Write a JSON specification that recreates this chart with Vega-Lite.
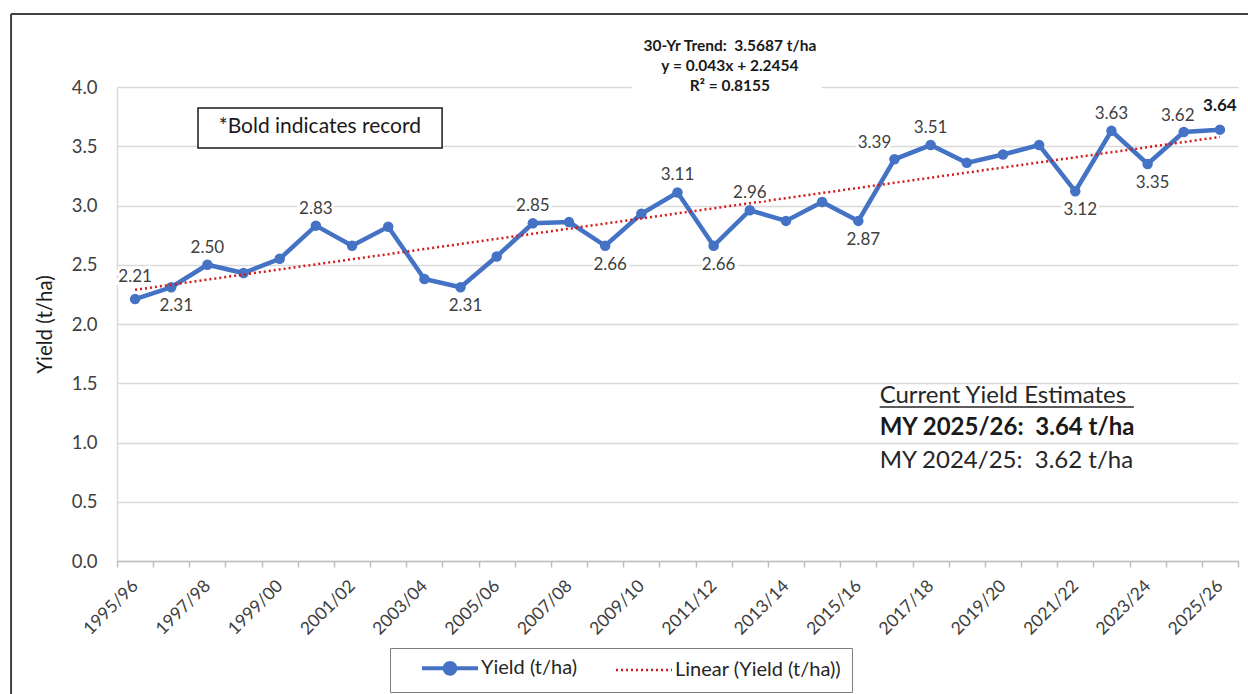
{
  "$schema": "https://vega.github.io/schema/vega-lite/v6.json",
  "width": 1121,
  "height": 474,
  "autosize": "none",
  "padding": {"left": 117, "top": 87, "right": 10, "bottom": 133},
  "background": "white",
  "config": {"font": "Lato", "view": {"stroke": null}},
  "data": {"values": [
    {"season": "1995/96", "yield": 2.21, "trend": 2.2884},
    {"season": "1996/97", "yield": 2.31, "trend": 2.3314},
    {"season": "1997/98", "yield": 2.50, "trend": 2.3744},
    {"season": "1998/99", "yield": 2.43, "trend": 2.4174},
    {"season": "1999/00", "yield": 2.55, "trend": 2.4604},
    {"season": "2000/01", "yield": 2.83, "trend": 2.5034},
    {"season": "2001/02", "yield": 2.66, "trend": 2.5464},
    {"season": "2002/03", "yield": 2.82, "trend": 2.5894},
    {"season": "2003/04", "yield": 2.38, "trend": 2.6324},
    {"season": "2004/05", "yield": 2.31, "trend": 2.6754},
    {"season": "2005/06", "yield": 2.57, "trend": 2.7184},
    {"season": "2006/07", "yield": 2.85, "trend": 2.7614},
    {"season": "2007/08", "yield": 2.86, "trend": 2.8044},
    {"season": "2008/09", "yield": 2.66, "trend": 2.8474},
    {"season": "2009/10", "yield": 2.93, "trend": 2.8904},
    {"season": "2010/11", "yield": 3.11, "trend": 2.9334},
    {"season": "2011/12", "yield": 2.66, "trend": 2.9764},
    {"season": "2012/13", "yield": 2.96, "trend": 3.0194},
    {"season": "2013/14", "yield": 2.87, "trend": 3.0624},
    {"season": "2014/15", "yield": 3.03, "trend": 3.1054},
    {"season": "2015/16", "yield": 2.87, "trend": 3.1484},
    {"season": "2016/17", "yield": 3.39, "trend": 3.1914},
    {"season": "2017/18", "yield": 3.51, "trend": 3.2344},
    {"season": "2018/19", "yield": 3.36, "trend": 3.2774},
    {"season": "2019/20", "yield": 3.43, "trend": 3.3204},
    {"season": "2020/21", "yield": 3.51, "trend": 3.3634},
    {"season": "2021/22", "yield": 3.12, "trend": 3.4064},
    {"season": "2022/23", "yield": 3.63, "trend": 3.4494},
    {"season": "2023/24", "yield": 3.35, "trend": 3.4924},
    {"season": "2024/25", "yield": 3.62, "trend": 3.5354},
    {"season": "2025/26", "yield": 3.64, "trend": 3.5784}
  ]},
  "layer": [
    {
      "data": {"values": [{"t": "box"}]},
      "mark": {"type": "rect", "fill": "white"},
      "encoding": {
        "x": {"datum": "2009/10", "bandPosition": 0.24, "type": "nominal",
          "scale": {"type": "band", "paddingInner": 0, "paddingOuter": 0,
            "domain": ["1995/96","1996/97","1997/98","1998/99","1999/00","2000/01","2001/02","2002/03","2003/04","2004/05","2005/06","2006/07","2007/08","2008/09","2009/10","2010/11","2011/12","2012/13","2013/14","2014/15","2015/16","2016/17","2017/18","2018/19","2019/20","2020/21","2021/22","2022/23","2023/24","2024/25","2025/26"]}},
        "x2": {"datum": "2014/15", "bandPosition": 0.49},
        "y": {"datum": 3.97, "type": "quantitative"},
        "y2": {"datum": 4.45}
      }
    },
    {
      "data": {"values": [{"t": "frame"}]},
      "mark": {"type": "rule", "stroke": "#404040", "strokeWidth": 2},
      "encoding": {
        "x": {"datum": "1995/96", "bandPosition": -2.93, "type": "nominal"},
        "x2": {"datum": "2025/26", "bandPosition": 1.5},
        "y": {"datum": 4.615, "type": "quantitative"}
      }
    },
    {
      "data": {"values": [{"t": "frame"}]},
      "mark": {"type": "rule", "stroke": "#404040", "strokeWidth": 2},
      "encoding": {
        "x": {"datum": "1995/96", "bandPosition": -2.93, "type": "nominal"},
        "y": {"datum": 4.615, "type": "quantitative"},
        "y2": {"datum": -1.2}
      }
    },
    {
      "mark": {"type": "line", "strokeWidth": 4.5, "point": {"size": 110, "filled": true}},
      "encoding": {
        "x": {"field": "season", "type": "nominal", "sort": null,
          "axis": {"title": null, "labelAngle": -45, "labelFontSize": 17.5, "labelColor": "#404040",
            "domainColor": "#bfbfbf", "domainWidth": 1.5, "tickColor": "#bfbfbf", "tickWidth": 1.5, "tickBand": "extent", "tickSize": 6,
            "labelPadding": 16, "grid": false,
            "labelExpr": "toNumber(substring(datum.value, 0, 4)) % 2 == 1 ? datum.value : ''"}},
        "y": {"field": "yield", "type": "quantitative",
          "scale": {"domain": [0, 4], "nice": false, "zero": true},
          "axis": {"title": "Yield (t/ha)", "values": [0, 0.5, 1, 1.5, 2, 2.5, 3, 3.5, 4], "format": ".1f",
            "grid": true, "gridColor": "#d9d9d9", "gridWidth": 1.5, "domain": true, "domainColor": "#d9d9d9", "domainWidth": 1.5,
            "ticks": false, "labelFontSize": 18.5, "labelColor": "#404040", "labelPadding": 20,
            "titleFontSize": 20.5, "titleColor": "#1a1a1a", "titleFontWeight": "normal", "titlePadding": 16}},
        "color": {"datum": "Yield (t/ha)", "type": "nominal",
          "scale": {"domain": ["Yield (t/ha)", "Linear (Yield (t/ha))"], "range": ["#4472C4", "#D41A1A"]},
          "legend": {"title": null, "orient": "none", "legendX": 273, "legendY": 561, "direction": "horizontal",
            "strokeColor": "#7f7f7f", "fillColor": "white", "padding": 10, "labelFontSize": 20, "labelColor": "#262626",
            "symbolType": "stroke", "symbolSize": 3136, "symbolStrokeWidth": 4, "columnPadding": 16, "labelOffset": 21,
            "symbolOffset": 40, "symbolLimit": 0, "labelLimit": 400,
            "encode": {"symbols": {"update": {
              "shape": {"signal": "datum.value === 'Yield (t/ha)' ? 'M-1,0H1M0.19,0A0.19,0.19,0,1,1,-0.19,0A0.19,0.19,0,1,1,0.19,0Z' : 'stroke'"},
              "fill": {"signal": "datum.value === 'Yield (t/ha)' ? '#4472C4' : 'transparent'"},
              "strokeDash": {"signal": "datum.value === 'Yield (t/ha)' ? [1, 0] : [2, 3]"},
              "strokeWidth": {"signal": "datum.value === 'Yield (t/ha)' ? 4 : 2.5"}
            }}}}}
      }
    },
    {
      "mark": {"type": "line", "strokeWidth": 2.5, "strokeDash": [2, 3]},
      "encoding": {
        "x": {"field": "season", "type": "nominal", "sort": null},
        "y": {"field": "trend", "type": "quantitative"},
        "color": {"datum": "Linear (Yield (t/ha))", "type": "nominal"}
      }
    },
    {
      "transform": [{"filter": {"field": "season", "oneOf": ["1997/98", "2000/01", "2006/07", "2010/11", "2012/13", "2017/18", "2022/23"]}}],
      "encoding": {
        "x": {"field": "season", "type": "nominal", "sort": null},
        "y": {"field": "yield", "type": "quantitative"},
        "text": {"field": "yield", "type": "quantitative", "format": ".2f"}
      },
      "layer": [
        {"mark": {"type": "text", "dy": -17, "fontSize": 17, "stroke": "white", "strokeWidth": 6, "fill": "white"}},
        {"mark": {"type": "text", "dy": -17, "fontSize": 17, "fill": "#404040"}}
      ]
    },
    {
      "transform": [{"filter": {"field": "season", "oneOf": ["1995/96"]}}],
      "encoding": {
        "x": {"field": "season", "type": "nominal", "sort": null},
        "y": {"field": "yield", "type": "quantitative"},
        "text": {"field": "yield", "type": "quantitative", "format": ".2f"}
      },
      "layer": [
        {"mark": {"type": "text", "dy": -22, "fontSize": 17, "stroke": "white", "strokeWidth": 6, "fill": "white"}},
        {"mark": {"type": "text", "dy": -22, "fontSize": 17, "fill": "#404040"}}
      ]
    },
    {
      "transform": [{"filter": {"field": "season", "oneOf": ["1996/97", "2004/05", "2008/09", "2011/12", "2015/16", "2021/22", "2023/24"]}}],
      "encoding": {
        "x": {"field": "season", "type": "nominal", "sort": null},
        "y": {"field": "yield", "type": "quantitative"},
        "text": {"field": "yield", "type": "quantitative", "format": ".2f"}
      },
      "layer": [
        {"mark": {"type": "text", "dy": 19, "dx": 5, "fontSize": 17, "stroke": "white", "strokeWidth": 6, "fill": "white"}},
        {"mark": {"type": "text", "dy": 19, "dx": 5, "fontSize": 17, "fill": "#404040"}}
      ]
    },
    {
      "transform": [{"filter": {"field": "season", "oneOf": ["2016/17"]}}],
      "encoding": {
        "x": {"field": "season", "type": "nominal", "sort": null},
        "y": {"field": "yield", "type": "quantitative"},
        "text": {"field": "yield", "type": "quantitative", "format": ".2f"}
      },
      "layer": [
        {"mark": {"type": "text", "dy": -16, "dx": -20, "fontSize": 17, "stroke": "white", "strokeWidth": 6, "fill": "white"}},
        {"mark": {"type": "text", "dy": -16, "dx": -20, "fontSize": 17, "fill": "#404040"}}
      ]
    },
    {
      "transform": [{"filter": {"field": "season", "oneOf": ["2024/25"]}}],
      "encoding": {
        "x": {"field": "season", "type": "nominal", "sort": null},
        "y": {"field": "yield", "type": "quantitative"},
        "text": {"field": "yield", "type": "quantitative", "format": ".2f"}
      },
      "layer": [
        {"mark": {"type": "text", "dy": -16, "dx": -6, "fontSize": 17, "fill": "#404040"}}
      ]
    },
    {
      "transform": [{"filter": {"field": "season", "oneOf": ["2025/26"]}}],
      "encoding": {
        "x": {"field": "season", "type": "nominal", "sort": null},
        "y": {"field": "yield", "type": "quantitative"},
        "text": {"field": "yield", "type": "quantitative", "format": ".2f"}
      },
      "layer": [
        {"mark": {"type": "text", "dy": -24, "fontSize": 17, "fontWeight": "bold", "fill": "#1a1a1a"}}
      ]
    },
    {
      "data": {"values": [{"t": ["30-Yr Trend:\u00a0 3.5687 t/ha", "y = 0.043x + 2.2454", "R² = 0.8155"]}]},
      "mark": {"type": "text", "fontSize": 15.5, "fontWeight": "bold", "fill": "#1a1a1a", "lineHeight": 20, "baseline": "middle"},
      "encoding": {
        "x": {"datum": "2011/12", "bandPosition": 0.95, "type": "nominal"},
        "y": {"datum": 4.35, "type": "quantitative"},
        "text": {"field": "t"}
      }
    },
    {
      "data": {"values": [{"t": "*Bold indicates record"}]},
      "mark": {"type": "rect", "fill": "white", "stroke": "#1a1a1a", "strokeWidth": 1.5},
      "encoding": {
        "x": {"datum": "1997/98", "bandPosition": 0.24, "type": "nominal"},
        "x2": {"datum": "2003/04", "bandPosition": 0.99},
        "y": {"datum": 3.485, "type": "quantitative"},
        "y2": {"datum": 3.823}
      }
    },
    {
      "data": {"values": [{"t": "*Bold indicates record"}]},
      "mark": {"type": "text", "fontSize": 21, "fill": "#1a1a1a"},
      "encoding": {
        "x": {"datum": "2000/01", "bandPosition": 0.61, "type": "nominal"},
        "y": {"datum": 3.662, "type": "quantitative"},
        "text": {"field": "t"}
      }
    },
    {
      "data": {"values": [{"t": "Current Yield Estimates"}]},
      "mark": {"type": "text", "fontSize": 24, "fill": "#262626", "align": "left"},
      "encoding": {
        "x": {"datum": "2016/17", "bandPosition": 0.09, "type": "nominal"},
        "y": {"datum": 1.39, "type": "quantitative"},
        "text": {"field": "t"}
      }
    },
    {
      "data": {"values": [{"t": "Current Yield Estimates"}]},
      "mark": {"type": "rule", "stroke": "#262626", "strokeWidth": 1.5},
      "encoding": {
        "x": {"datum": "2016/17", "bandPosition": 0.09, "type": "nominal"},
        "x2": {"datum": "2023/24", "bandPosition": 0.12},
        "y": {"datum": 1.3, "type": "quantitative"}
      }
    },
    {
      "data": {"values": [{"t": "MY 2025/26:\u00a0 3.64 t/ha"}]},
      "mark": {"type": "text", "fontSize": 24, "fontWeight": "bold", "fill": "#1a1a1a", "align": "left"},
      "encoding": {
        "x": {"datum": "2016/17", "bandPosition": 0.09, "type": "nominal"},
        "y": {"datum": 1.12, "type": "quantitative"},
        "text": {"field": "t"}
      }
    },
    {
      "data": {"values": [{"t": "MY 2024/25:\u00a0 3.62 t/ha"}]},
      "mark": {"type": "text", "fontSize": 24, "fill": "#262626", "align": "left"},
      "encoding": {
        "x": {"datum": "2016/17", "bandPosition": 0.09, "type": "nominal"},
        "y": {"datum": 0.84, "type": "quantitative"},
        "text": {"field": "t"}
      }
    }
  ]
}
